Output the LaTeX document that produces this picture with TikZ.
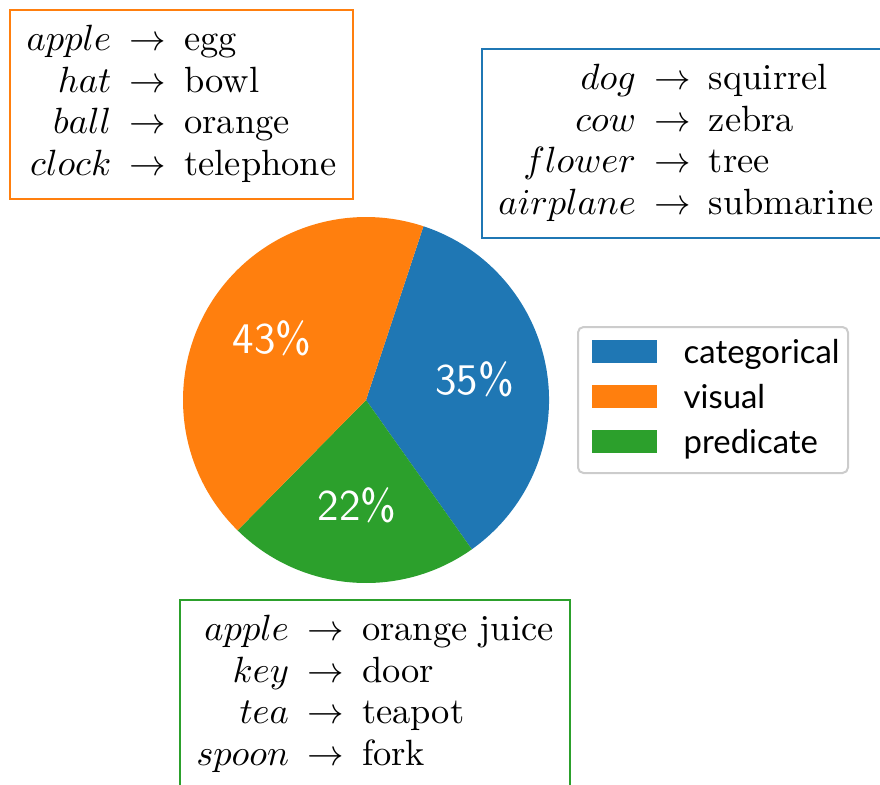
\documentclass[tikz,border=0pt]{standalone}
\usepackage{fontspec}
\newfontfamily\legfont{Lato}
\definecolor{tabblue}{HTML}{1F77B4}
\definecolor{taborange}{HTML}{FF7F0E}
\definecolor{tabgreen}{HTML}{2CA02C}
\definecolor{legedge}{HTML}{CCCCCC}
\begin{document}
\begin{tikzpicture}[x=0.274pt,y=0.274pt,
  exbox/.style={draw, line width=0.7pt, minimum height=51.79pt, inner sep=0pt,
    font=\fontsize{10}{11.37}\selectfont},
  pct/.style={text=white, inner sep=0pt, yshift=1.2pt, font=\sffamily\fontsize{12}{14}\selectfont},
  patch/.style={draw=none, minimum width=17.81pt, minimum height=6.30pt, inner sep=0pt},
  legtext/.style={anchor=base west, inner sep=0pt, font=\legfont\fontsize{9}{11}\selectfont}]
\useasboundingbox (0,0) rectangle (880,784);
\clip (0,0) rectangle (880,784);
% pie
\coordinate (c) at (366,384);
\fill[tabblue] (c) -- ++(71.7:183) arc[start angle=71.7, end angle=-54.66, radius=183] -- cycle;
\fill[tabgreen] (c) -- ++(-54.66:183) arc[start angle=-54.66, end angle=-134.58, radius=183] -- cycle;
\fill[taborange] (c) -- ++(-134.58:183) arc[start angle=-134.58, end angle=-288.3, radius=183] -- cycle;
\node[pct] (p43) at ([shift={(148.5:110)}]c) {43\%};
\node[pct] (p35) at ([shift={(8.55:110)}]c) {35\%};
\node[pct] (p22) at ([shift={(-94.6:110)}]c) {22\%};
% example boxes
\node[exbox, draw=taborange, minimum width=93.98pt] (obox) at (181.5,679.5) {%
  \begin{tabular}{@{}r@{\hspace{5pt}}c@{\hspace{5pt}}l@{}}
  $apple$ & $\rightarrow$ & egg\\
  $hat$ & $\rightarrow$ & bowl\\
  $ball$ & $\rightarrow$ & orange\\
  $clock$ & $\rightarrow$ & telephone
  \end{tabular}};
\node[exbox, draw=tabblue, minimum width=111.79pt] (bbox) at (686,640.5) {%
  \begin{tabular}{@{}r@{\hspace{5pt}}c@{\hspace{5pt}}l@{}}
  $dog$ & $\rightarrow$ & squirrel\\
  $cow$ & $\rightarrow$ & zebra\\
  $flower$ & $\rightarrow$ & tree\\
  $airplane$ & $\rightarrow$ & submarine
  \end{tabular}};
\node[exbox, draw=tabgreen, minimum width=106.86pt] (gbox) at (375,89.5) {%
  \begin{tabular}{@{}r@{\hspace{5pt}}c@{\hspace{5pt}}l@{}}
  $apple$ & $\rightarrow$ & orange juice\\
  $key$ & $\rightarrow$ & door\\
  $tea$ & $\rightarrow$ & teapot\\
  $spoon$ & $\rightarrow$ & fork
  \end{tabular}};
% legend
\node[draw=legedge, fill=white, line width=0.55pt, rounded corners=1.5pt,
  minimum width=73.98pt, minimum height=40.0pt, inner sep=0pt] (legend) at (713,384) {};
\node[patch, fill=tabblue] (lb) at (624.5,432.5) {};
\node[patch, fill=taborange] (lo) at (624.5,387.5) {};
\node[patch, fill=tabgreen] (lg) at (624.5,342.5) {};
\node[legtext] (tb) at (683,421) {categorical};
\node[legtext] (to) at (683,376) {visual};
\node[legtext] (tg) at (683,331) {predicate};
\end{tikzpicture}
\end{document}
